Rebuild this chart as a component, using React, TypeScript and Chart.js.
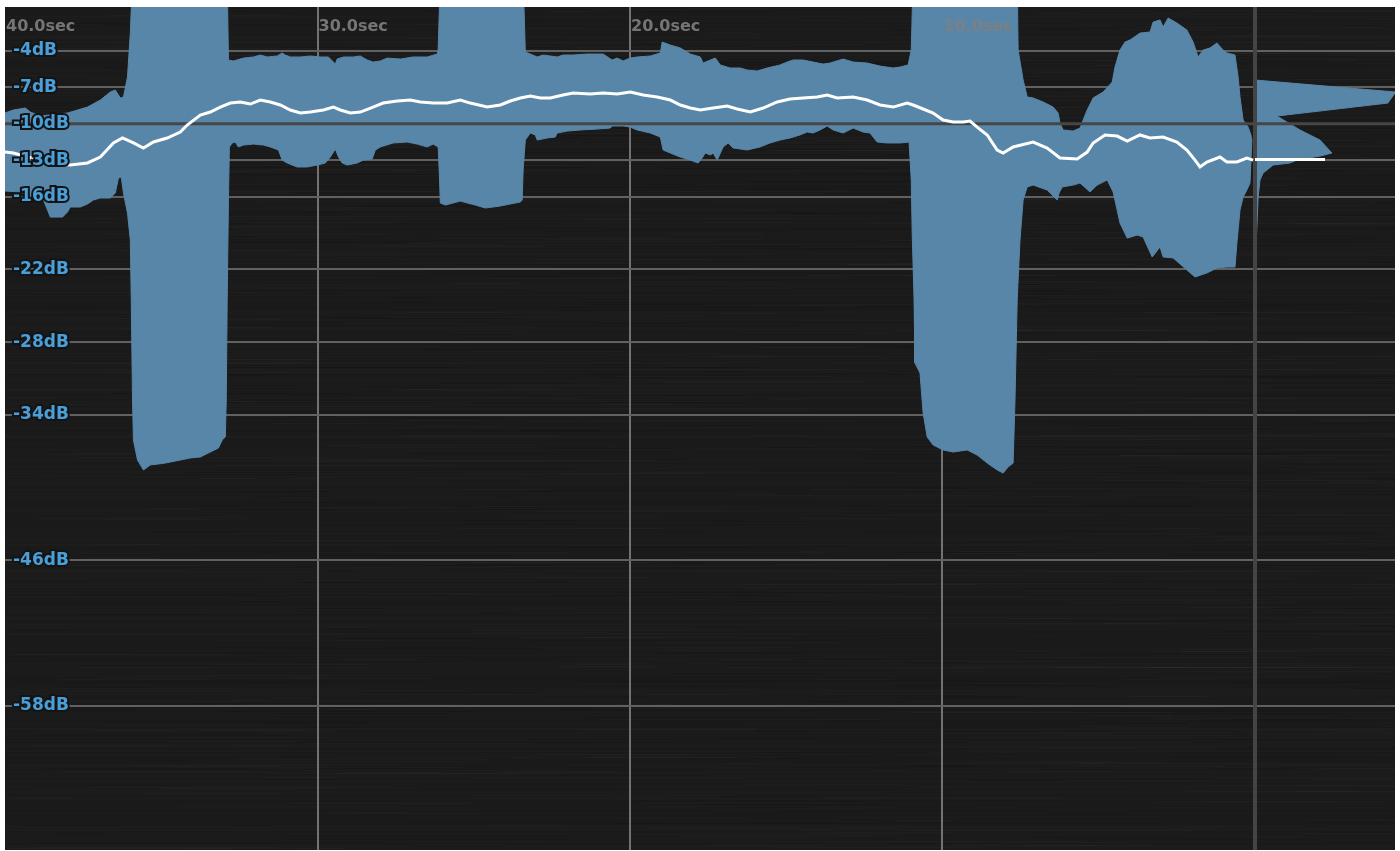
import React, { useEffect, useRef } from 'react';
import { Chart, registerables } from 'chart.js';

Chart.register(...registerables);

// ---- axes ----
const X_MIN = -40;
const X_MAX = 4.48;
const Y_MIN = -69.87;
const Y_MAX = -0.37;
const X_TICKS = [-40, -30, -20, -10];
const Y_TICKS = [-4, -7, -10, -13, -16, -22, -28, -34, -46, -58];

// ---- reference levels ----
const TARGET_DB = -10;
const NOW_SEC = 0;
const INTEGRATED_DB = -12.95;
const INTEGRATED_END_SEC = 2.24;

// ---- loudness range envelope (upper edge), seconds / dB ----
const UPPER_TIME = [
  -40.0, -39.73, -39.35, -39.19, -38.87, -38.0, -37.36, -36.95, -36.63, -36.47,
  -36.31, -36.21, -36.08, -35.99, -35.92,
  -32.89, -32.85, -32.69, -32.37, -32.05, -31.83, -31.61, -31.29, -31.13, -31.03,
  -30.87, -30.55, -30.23, -29.91, -29.65, -29.49, -29.43, -29.37, -29.17, -28.85,
  -28.63, -28.41, -28.22, -27.99, -27.77, -27.35, -26.94, -26.49, -26.17, -26.14,
  -26.07,
  -23.42, -23.35, -23.19, -22.97, -22.78, -22.33, -22.14, -21.82, -21.37, -20.86,
  -20.57, -20.41, -20.22, -19.99, -19.77, -19.35, -19.03, -18.97, -18.71, -18.39,
  -18.07, -17.75, -17.66, -17.43, -17.27, -17.11, -16.79, -16.47, -16.25, -15.93,
  -15.61, -15.2, -14.97, -14.78, -14.46, -14.14, -13.82, -13.6, -13.18, -12.86,
  -12.41, -12.0, -11.58, -11.36, -11.1, -11.0, -10.94,
  -7.61, -7.58, -7.42, -7.29, -7.1, -6.78, -6.46, -6.3, -6.24, -6.14,
  -5.82, -5.6, -5.5, -5.37, -5.18, -4.86, -4.57, -4.48, -4.32, -4.16,
  -4.0, -3.68, -3.36, -3.26, -3.04, -2.94, -2.78, -2.5, -2.18, -1.98,
  -1.82, -1.66, -1.44, -1.22, -1.02, -0.9, -0.64, -0.54, -0.48, -0.38,
  -0.22, -0.13, -0.1,
];
const UPPER_DB = [
  -9.11, -8.86, -8.7, -9.03, -9.36, -9.11, -8.62, -8.04, -7.38, -7.22,
  -7.87, -7.79, -6.14, -2.52, 2,
  2, -4.74, -4.82, -4.58, -4.49, -4.33, -4.49, -4.41, -4.16, -4.33,
  -4.49, -4.49, -4.41, -4.49, -4.49, -4.91, -5.07, -4.66, -4.49, -4.49,
  -4.41, -4.74, -4.91, -4.82, -4.58, -4.66, -4.49, -4.49, -4.25, -3.92,
  2,
  2, -4.08, -4.25, -4.49, -4.33, -4.49, -4.33, -4.33, -4.25, -4.25,
  -4.74, -4.58, -4.82, -4.58, -4.49, -4.41, -4.16, -3.26, -3.51, -3.75,
  -4.25, -4.49, -4.99, -4.74, -4.58, -5.15, -5.4, -5.4, -5.57, -5.65,
  -5.4, -5.15, -4.91, -4.74, -4.74, -4.91, -5.07, -4.99, -4.66, -4.91,
  -4.99, -5.24, -5.4, -5.32, -5.15, -3.92, 2,
  2, -3.92, -6.39, -7.79, -7.87, -8.2, -8.62, -9.11, -9.94, -10.51,
  -10.6, -10.35, -9.69, -8.86, -7.87, -7.38, -6.56, -5.32, -3.92, -3.26,
  -3.09, -2.52, -2.43, -1.61, -1.44, -2.02, -1.28, -1.69, -2.27, -3.26,
  -4.49, -3.92, -3.75, -3.34, -3.92, -4.16, -4.33, -6.14, -7.79, -9.69,
  -10.27, -10.92, -11.34,
];

// ---- loudness range envelope (lower edge) ----
const LOWER_TIME = [
  -40.0, -39.51, -39.09, -38.77, -38.64, -38.55, -38.16, -38.0, -37.91, -37.59,
  -37.36, -37.17, -36.95, -36.63, -36.47, -36.37, -36.28, -36.21, -36.08, -35.99,
  -35.96, -35.92, -35.89, -35.76, -35.57, -35.35, -34.87, -34.39, -34.07, -33.75,
  -33.43, -33.17, -33.05, -32.95, -32.92, -32.89, -32.85, -32.82, -32.73, -32.63,
  -32.53, -32.37, -32.05, -31.73, -31.51, -31.25, -31.13, -30.97, -30.65, -30.33,
  -30.01, -29.75, -29.59, -29.43, -29.33, -29.21, -29.05, -28.73, -28.53, -28.25,
  -28.15, -27.99, -27.58, -27.13, -26.81, -26.49, -26.3, -26.14, -26.1, -26.07,
  -25.91, -25.43, -24.95, -24.63, -24.15, -23.83, -23.51, -23.45, -23.42, -23.35,
  -23.19, -23.03, -22.97, -22.65, -22.39, -22.33, -22.01, -21.59, -21.05, -20.63,
  -20.57, -20.22, -19.99, -19.77, -19.35, -19.03, -18.94, -18.71, -18.39, -18.07,
  -17.82, -17.69, -17.59, -17.43, -17.34, -17.21, -17.02, -16.86, -16.7, -16.25,
  -15.84, -15.52, -15.2, -14.88, -14.56, -14.33, -14.14, -13.92, -13.69, -13.5,
  -13.18, -12.86, -12.54, -12.32, -12.09, -11.77, -11.36, -11.07, -11.0, -10.97,
  -10.91, -10.88, -10.72, -10.62, -10.49, -10.3, -9.98, -9.66, -9.21, -8.89,
  -8.57, -8.25, -8.06, -7.9, -7.74, -7.68, -7.61, -7.52, -7.42, -7.29,
  -7.1, -6.65, -6.33, -6.27, -6.17, -5.82, -5.6, -5.28, -5.05, -4.73,
  -4.54, -4.32, -4.09, -3.77, -3.58, -3.29, -3.04, -2.94, -2.62, -2.18,
  -1.92, -1.54, -1.22, -0.9, -0.64, -0.58, -0.48, -0.38, -0.26, -0.16,
  -0.1,
];
const LOWER_DB = [
  -15.54, -15.62, -16.12, -16.28, -17.11, -17.69, -17.69, -17.27, -16.86, -16.86,
  -16.61, -16.28, -16.12, -16.12, -15.71, -14.47, -14.39, -15.71, -17.36, -19.58,
  -24.53, -32.77, -36.07, -37.72, -38.54, -38.13, -37.97, -37.72, -37.55, -37.47,
  -37.06, -36.73, -36.07, -35.82, -32.77, -24.53, -16.28, -11.91, -11.58, -11.5,
  -11.91, -11.75, -11.67, -11.75, -11.91, -12.16, -12.99, -13.23, -13.56, -13.56,
  -13.4, -13.23, -12.74, -12.08, -12.74, -13.23, -13.4, -13.23, -12.99, -12.9,
  -12.16, -11.91, -11.58, -11.5, -11.67, -11.91, -11.67, -11.91, -14.22, -16.53,
  -16.7, -16.37, -16.7, -16.94, -16.78, -16.61, -16.45, -16.28, -13.81, -11.34,
  -10.76, -10.92, -11.34, -11.17, -11.09, -10.76, -10.6, -10.51, -10.43, -10.35,
  -10.18, -10.18, -10.27, -10.51, -10.76, -11.09, -12.16, -12.41, -12.74, -12.99,
  -13.23, -12.82, -12.41, -12.57, -12.41, -12.99, -11.91, -11.58, -11.99, -12.16,
  -11.91, -11.58, -11.34, -11.17, -10.92, -10.68, -10.76, -10.51, -10.18, -10.51,
  -10.76, -10.35, -10.68, -10.76, -11.5, -11.58, -11.58, -11.5, -14.63, -19.0,
  -24.53, -29.72, -30.55, -33.84, -35.82, -36.48, -36.89, -37.06, -36.89, -37.31,
  -37.97, -38.54, -38.79, -38.29, -37.97, -32.77, -24.53, -19.58, -16.28, -15.21,
  -15.05, -15.46, -16.28, -15.71, -15.21, -15.05, -14.88, -15.62, -15.05, -14.63,
  -15.62, -18.18, -19.42, -19.17, -19.33, -20.98, -20.16, -20.98, -21.06, -22.05,
  -22.63, -22.3, -21.89, -21.81, -21.81, -19.83, -17.11, -16.04, -15.46, -14.88,
  -11.34,
];

// ---- short-term loudness (white line) ----
const LOUD_TIME = [
  -40.0, -39.73, -39.28, -38.77, -38.23, -37.91, -37.36, -36.95, -36.53, -36.24,
  -35.89, -35.57, -35.25, -34.81, -34.39, -34.17, -33.75, -33.43, -33.11, -32.79,
  -32.47, -32.15, -31.83, -31.51, -31.19, -30.87, -30.55, -30.23, -29.81, -29.49,
  -29.27, -28.95, -28.63, -28.22, -27.9, -27.45, -27.03, -26.71, -26.3, -25.85,
  -25.43, -25.11, -24.57, -24.15, -23.83, -23.51, -23.19, -22.87, -22.55, -22.14,
  -21.82, -21.27, -20.86, -20.41, -19.99, -19.58, -19.13, -18.71, -18.39, -18.07,
  -17.75, -17.34, -16.89, -16.57, -16.15, -15.74, -15.29, -14.88, -14.46, -14.01,
  -13.69, -13.37, -12.86, -12.41, -12.0, -11.58, -11.13, -10.94, -10.62, -10.3,
  -9.98, -9.66, -9.34, -9.12, -8.89, -8.57, -8.25, -8.06, -7.74, -7.1,
  -6.65, -6.24, -5.69, -5.37, -5.18, -4.8, -4.41, -4.09, -3.68, -3.36,
  -2.94, -2.5, -2.18, -1.92, -1.76, -1.54, -1.12, -0.9, -0.58, -0.26,
  -0.06,
];
const LOUD_DB = [
  -12.33, -12.41, -12.74, -12.99, -13.32, -13.4, -13.23, -12.74, -11.58, -11.17,
  -11.58, -12.0, -11.5, -11.17, -10.68, -10.1, -9.28, -9.03, -8.62, -8.29,
  -8.2, -8.37, -8.04, -8.2, -8.45, -8.86, -9.11, -9.03, -8.86, -8.62,
  -8.86, -9.11, -9.03, -8.62, -8.29, -8.12, -8.04, -8.2, -8.29, -8.29,
  -8.04, -8.29, -8.62, -8.45, -8.12, -7.87, -7.71, -7.87, -7.87, -7.63,
  -7.46, -7.54, -7.46, -7.54, -7.38, -7.63, -7.79, -8.04, -8.45, -8.7,
  -8.86, -8.7, -8.53, -8.78, -9.03, -8.7, -8.2, -7.96, -7.87, -7.79,
  -7.63, -7.87, -7.79, -8.04, -8.45, -8.62, -8.29, -8.45, -8.78, -9.11,
  -9.69, -9.85, -9.85, -9.77, -10.27, -10.92, -12.16, -12.41, -11.91, -11.5,
  -12.0, -12.82, -12.9, -12.33, -11.58, -10.92, -11.01, -11.42, -10.92, -11.17,
  -11.09, -11.5, -12.16, -12.99, -13.56, -13.15, -12.74, -13.15, -13.15, -12.82,
  -12.99,
];

// ---- loudness histogram (right of "now"), dB / extent in seconds ----
const HIST_DB = [
  -6.39, -7.38, -8.29, -9.36, -10.51, -11.34, -12.41, -12.66, -12.99, -13.23,
  -13.4, -14.06, -14.63, -16.04, -18.51, -20.16, -22.3,
];
const HIST_SEC = [
  0, 4.5, 4.25, 0.7, 1.44, 2.08, 2.46, 2.08, 1.34, 1.12,
  0.58, 0.26, 0.16, 0.1, 0.06, 0.03, 0,
];

const BLUE = '#5886a8';
const LABEL_BLUE = '#4a9fd8';
const X_FONT = { family: 'DejaVu Sans', size: 16, weight: 'bold' as const };
const Y_FONT = { family: 'DejaVu Sans', size: 17, weight: 'bold' as const };

const zip = (xs: number[], ys: number[]) => xs.map((x, i) => ({ x, y: ys[i] }));

function hash(n: number) {
  const s = Math.sin(n * 12.9898 + 78.233) * 43758.5453;
  return s - Math.floor(s);
}

const brushedBackground = {
  id: 'brushedBackground',
  beforeDraw(chart: any) {
    const { ctx, width, height } = chart;
    ctx.save();
    ctx.fillStyle = '#1b1b1b';
    ctx.fillRect(0, 0, width, height);
    for (let y = 0; y < height; y++) {
      const v = hash(y + 0.5);
      ctx.fillStyle = v > 0.5 ? `rgba(255,255,255,${(v - 0.5) * 0.025})` : `rgba(0,0,0,${(0.5 - v) * 0.1})`;
      ctx.fillRect(0, y, width, 1);
    }
    for (let i = 0; i < 1200; i++) {
      const x = hash(i * 3.17 + 1) * width;
      const y = Math.floor(hash(i * 7.31 + 2) * height);
      const len = 30 + hash(i * 1.93 + 3) * 260;
      const v = hash(i * 5.53 + 4);
      ctx.fillStyle = v > 0.5 ? 'rgba(255,255,255,0.02)' : 'rgba(0,0,0,0.08)';
      ctx.fillRect(x, y, len, 1);
    }
    ctx.restore();
  },
};

const zeroSize = (horizontal: boolean) => (s: any) => {
  if (horizontal) s.height = 0; else s.width = 0;
  s.paddingLeft = 0; s.paddingRight = 0; s.paddingTop = 0; s.paddingBottom = 0;
};

export default function App() {
  const ref = useRef<HTMLCanvasElement>(null);

  useEffect(() => {
    const canvas = ref.current;
    if (!canvas) return;
    const chart = new Chart(canvas, {
      type: 'line',
      data: {
        datasets: [
          {
            label: 'range-upper',
            data: zip(UPPER_TIME, UPPER_DB),
            borderColor: BLUE,
            borderWidth: 1,
            backgroundColor: BLUE,
            fill: '+1',
            pointRadius: 0,
            order: 5,
          },
          {
            label: 'range-lower',
            data: zip(LOWER_TIME, LOWER_DB),
            borderColor: BLUE,
            borderWidth: 1,
            backgroundColor: BLUE,
            fill: false,
            pointRadius: 0,
            order: 5,
          },
          {
            label: 'histogram',
            data: zip(HIST_SEC, HIST_DB),
            indexAxis: 'y',
            borderColor: BLUE,
            borderWidth: 1,
            backgroundColor: BLUE,
            fill: 'origin',
            pointRadius: 0,
            order: 5,
          } as any,
          {
            label: 'target',
            data: [{ x: X_MIN, y: TARGET_DB }, { x: X_MAX, y: TARGET_DB }],
            borderColor: '#464646',
            borderWidth: 3,
            fill: false,
            pointRadius: 0,
            order: 2,
          },
          {
            label: 'now',
            data: [{ x: NOW_SEC, y: Y_MIN - 5 }, { x: NOW_SEC, y: Y_MAX + 5 }],
            borderColor: '#444444',
            borderWidth: 4,
            fill: false,
            pointRadius: 0,
            order: 2,
          },
          {
            label: 'short-term',
            data: zip(LOUD_TIME, LOUD_DB),
            borderColor: '#ffffff',
            borderWidth: 3,
            fill: false,
            pointRadius: 0,
            order: 1,
          },
          {
            label: 'integrated',
            data: [{ x: NOW_SEC, y: INTEGRATED_DB }, { x: INTEGRATED_END_SEC, y: INTEGRATED_DB }],
            borderColor: '#ffffff',
            borderWidth: 3,
            fill: false,
            pointRadius: 0,
            order: 1,
          },
        ],
      },
      options: {
        responsive: false,
        animation: false,
        events: [],
        layout: { padding: 0 },
        elements: { line: { tension: 0 }, point: { radius: 0 } },
        plugins: { legend: { display: false }, tooltip: { enabled: false } },
        scales: {
          x: {
            type: 'linear',
            position: 'top',
            min: X_MIN,
            max: X_MAX,
            afterBuildTicks: (s: any) => { s.ticks = X_TICKS.map((v) => ({ value: v })); },
            afterFit: zeroSize(true),
            grid: {
              color: (c: any) => (c.tick && c.tick.value === X_MIN ? 'rgba(0,0,0,0)' : '#727272'),
              lineWidth: 2,
              drawTicks: false,
              z: -1,
            },
            border: { display: false },
            ticks: {
              mirror: true,
              align: 'start',
              padding: 10,
              labelOffset: 1,
              z: 1,
              autoSkip: false,
              maxRotation: 0,
              minRotation: 0,
              color: 'rgba(128,128,128,0.9)',
              font: X_FONT,
              callback: (v: any) => `${Math.abs(Number(v)).toFixed(1)}sec`,
            },
          },
          y: {
            type: 'linear',
            position: 'left',
            min: Y_MIN,
            max: Y_MAX,
            afterBuildTicks: (s: any) => {
              s.ticks = [...Y_TICKS].sort((a, b) => a - b).map((v) => ({ value: v }));
            },
            afterFit: zeroSize(false),
            grid: { color: '#616161', lineWidth: 2, drawTicks: false, z: -1 },
            border: { display: false },
            ticks: {
              mirror: true,
              padding: 8,
              z: 1,
              autoSkip: false,
              color: LABEL_BLUE,
              textStrokeColor: '#141414',
              textStrokeWidth: 4,
              font: Y_FONT,
              callback: (v: any) => `${v}dB`,
            },
          },
        },
      } as any,
      plugins: [brushedBackground],
    });
    return () => chart.destroy();
  }, []);

  return (
    <div style={{ position: 'absolute', left: 5, top: 7, width: 1390, height: 843 }}>
      <canvas ref={ref} width={1390} height={843} style={{ display: 'block', width: 1390, height: 843 }} />
    </div>
  );
}
